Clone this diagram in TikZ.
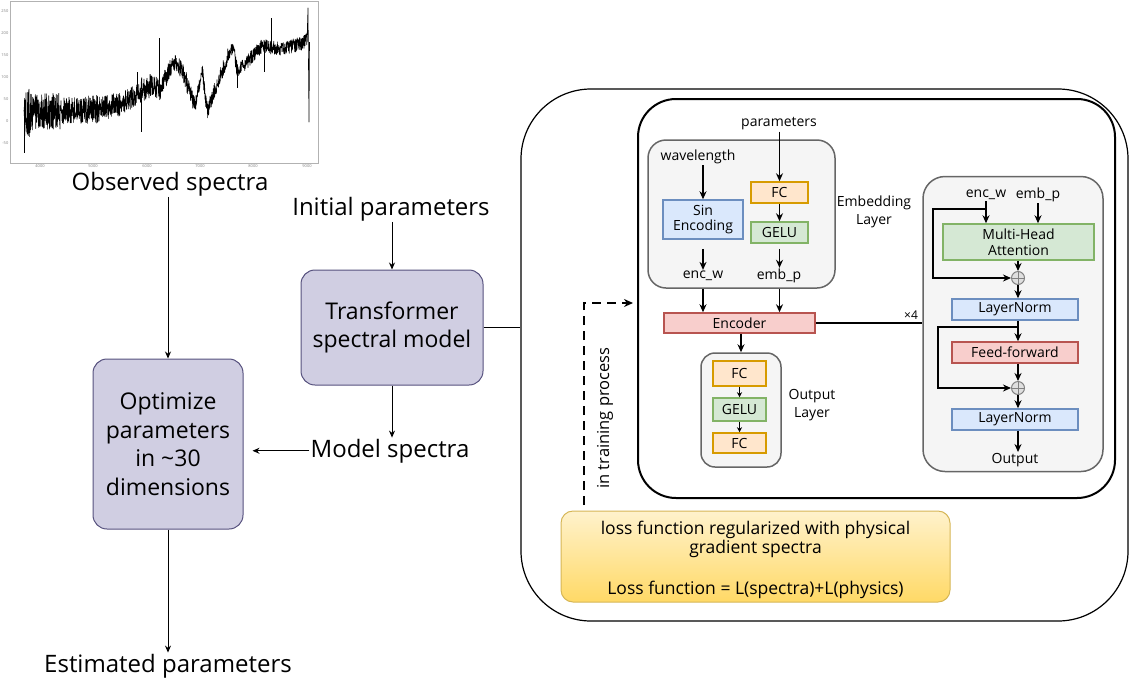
\documentclass[tikz,border=0pt]{standalone}
\usepackage{fontspec}
\setmainfont{Open Sans}
\usetikzlibrary{arrows.meta}
\definecolor{lavF}{HTML}{D0CEE2}
\definecolor{lavD}{HTML}{56517E}
\definecolor{grF}{HTML}{F5F5F5}
\definecolor{grD}{HTML}{666666}
\definecolor{blF}{HTML}{DAE8FC}
\definecolor{blD}{HTML}{6C8EBF}
\definecolor{orF}{HTML}{FFE6CC}
\definecolor{orD}{HTML}{D79B00}
\definecolor{gnF}{HTML}{D5E8D4}
\definecolor{gnD}{HTML}{82B366}
\definecolor{rdF}{HTML}{F8CECC}
\definecolor{rdD}{HTML}{B85450}
\definecolor{ylT}{HTML}{FFF2CC}
\definecolor{ylB}{HTML}{FFD966}
\definecolor{ylD}{HTML}{D6B656}
\tikzset{
  bigtxt/.style={font=\fontsize{24}{29}\selectfont, inner sep=1},
  lbox/.style={draw=lavD, fill=lavF, rounded corners=14, line width=1, align=center,
    font=\fontsize{23}{28.5}\selectfont, inner sep=0},
  thinarr/.style={line width=0.9, -{Stealth[length=7,width=6]}},
  inarr/.style={line width=1.8, -{Stealth[length=8,width=7]}},
  smarr/.style={line width=1.3, -{Stealth[length=5,width=5]}},
  smtxt/.style={font=\fontsize{14}{18}\selectfont, inner sep=1, align=center},
  cbox/.style={draw, line width=1.5, inner sep=0, align=center, font=\fontsize{14}{15.5}\selectfont},
  grp/.style={draw=grD, fill=grF, line width=1.5},
  plusc/.style={circle, draw=gray, fill=gray!25, line width=1, minimum size=13, inner sep=0,
    path picture={\draw[gray, line width=1] (path picture bounding box.north) -- (path picture bounding box.south)
      (path picture bounding box.west) -- (path picture bounding box.east);}},
  ticktxt/.style={font=\fontsize{4}{4}\selectfont, text=gray, inner sep=0.5}
}
\begin{document}
\begin{tikzpicture}[x=1pt,y=-1pt]
\useasboundingbox (0,0) rectangle (1131,678);

% ---------------- spectrum plot ----------------
\draw[gray!60, line width=0.8] (10,1) rectangle (318,163);
\foreach \v/\yy [count=\i] in {250/10.7,200/32.7,150/55,100/77,50/99,0/121,-50/143}
  \node[ticktxt, anchor=east] (yt\i) at (9,\yy) {\v};
\foreach \v/\xx [count=\i] in {4000/40,5000/93,6000/147,7000/200,8000/253,9000/307}
  \node[ticktxt] (xt\i) at (\xx,166) {\v};
\pgfmathsetseed{7}
\draw[black, line width=0.6, line join=round] (24,110)
  foreach \xa/\ya/\xb/\yb/\a/\n in {
    24/110/30/112/26/30, 30/112/60/111/18/150, 60/111/100/109/14/200,
    100/109/120/104/12/100, 120/104/135/96/11/75, 135/96/140/90/11/25,
    140/90/155/86/13/75, 155/86/160/92/11/25, 160/92/168/72/10/40,
    168/72/175/61/9/35, 175/61/183/72/9/40, 183/72/195/107/9/60,
    195/107/200/80/8/25, 200/80/202/68/6/10, 202/68/207/112/8/25,
    207/112/213/95/8/30, 213/95/228/56/8/75, 228/56/233/47/6/25,
    233/47/237/70/8/20, 237/70/241/68/7/20, 241/68/262/46/7/105,
    262/46/280/49/7/90, 280/49/300/44/7/100, 300/44/307/40/7/35}
  { foreach \k in {1,...,\n} { -- ({\xa+(\xb-\xa)*\k/\n},{\ya+(\yb-\ya)*\k/\n+\a*rand}) } }
  -- (308,8) -- (309,122) -- (309.5,42);
\draw[black, line width=0.6] (24,105) -- (24,153) (137,95) -- (137,72) (141,90) -- (141,132)
  (159,90) -- (159,38) (271,47) -- (271,18) (264,46) -- (264,72) (237,70) -- (237,88);

% ---------------- left column ----------------
\node[bigtxt, anchor=base] (obs) at (170,190) {Observed spectra};
\node[lbox, minimum width=150, minimum height=170] (opt) at (168,444)
  {Optimize\\parameters\\in \textasciitilde30\\dimensions};
\node[bigtxt, anchor=base] (est) at (168,672) {Estimated parameters};
\node[bigtxt, anchor=base] (init) at (391,215) {Initial parameters};
\node[lbox, minimum width=182, minimum height=115] (trans) at (392,327.5)
  {Transformer\\spectral model};
\node[bigtxt, anchor=base] (model) at (390,457) {Model spectra};

\draw[thinarr] (opt.north |- obs.south) -- (opt.north);
\draw[thinarr] (opt.south) -- (opt.south |- est.north);
\draw[thinarr] (trans.north |- init.south) -- (trans.north);
\draw[thinarr] (trans.south) -- (trans.south |- model.north);
\draw[thinarr, shorten >=9] (model.west) -- (opt.east |- model.west);

% ---------------- big frames ----------------
\node[draw, rounded corners=70, line width=1.2, minimum width=607, minimum height=532] (outer) at (824.5,355) {};
\draw[line width=1] (trans.east) -- (trans.east -| outer.west);
\node[draw, rounded corners=38, line width=2, minimum width=477, minimum height=399] (inner) at (876.5,298.5) {};

% ---------------- embedding layer ----------------
\node[grp, rounded corners=18, minimum width=187, minimum height=148] (emb) at (741.5,214) {};
\node[smtxt] (par) at (779,124) {parameters};
\node[smtxt] (wl) at (698,157) {wavelength};
\node[cbox, draw=blD, fill=blF, minimum width=80, minimum height=39] (sin) at (703,219.5) {Sin\\Encoding};
\node[cbox, draw=orD, fill=orF, minimum width=57, minimum height=21] (fc0) at (779.5,192.5) {FC};
\node[cbox, draw=gnD, fill=gnF, minimum width=57, minimum height=21] (gelu0) at (779.5,232.5) {GELU};
\node[smtxt] (encw) at (703,276) {enc\_w};
\node[smtxt] (embp) at (779,276) {emb\_p};
\node[smtxt] (embL) at (874,212) {Embedding\\Layer};
\draw[inarr] (sin.north |- wl.south) -- (sin.north);
\draw[inarr] (fc0.north |- par.south) -- (fc0.north);
\draw[inarr] (fc0.south) -- (gelu0.north);
\draw[inarr, shorten <=9] (sin.south) -- (sin.south |- encw.north);
\draw[inarr, shorten <=5] (gelu0.south) -- (gelu0.south |- embp.north);

% ---------------- encoder ----------------
\node[cbox, draw=rdD, fill=rdF, minimum width=151, minimum height=20] (enc) at (739.5,323) {Encoder};
\draw[inarr] (sin.south |- emb.south) -- (sin.south |- enc.north);
\draw[inarr] (gelu0.south |- emb.south) -- (gelu0.south |- enc.north);

% ---------------- output layer ----------------
\node[grp, rounded corners=14, minimum width=80, minimum height=114] (outr) at (741,410) {};
\node[cbox, draw=orD, fill=orF, minimum width=53, minimum height=25] (fc1) at (739.5,373.5) {FC};
\node[cbox, draw=gnD, fill=gnF, minimum width=53, minimum height=23] (gelu1) at (739.5,409.5) {GELU};
\node[cbox, draw=orD, fill=orF, minimum width=53, minimum height=20] (fc2) at (739.5,443) {FC};
\node[smtxt] (outL) at (812,405) {Output\\Layer};
\draw[inarr] (outr.north |- enc.south) -- (outr.north);
\draw[smarr] (fc1.south) -- (gelu1.north);
\draw[smarr] (gelu1.south) -- (fc2.north);

% ---------------- encoder block ----------------
\node[grp, rounded corners=22, minimum width=180, minimum height=295] (blk) at (1013,324) {};
\draw[line width=1.5] (enc.east) -- (enc.east -| blk.west);
\node[font=\fontsize{12}{12}\selectfont, inner sep=1] (x4) at (911,315) {×4};
\node[smtxt] (ew2) at (986,195) {enc\_w};
\node[smtxt] (ep2) at (1038,195) {emb\_p};
\node[cbox, draw=gnD, fill=gnF, minimum width=151, minimum height=36] (mha) at (1018.5,242) {Multi-Head\\Attention};
\node[plusc] (p1) at (1018,278) {};
\node[cbox, draw=blD, fill=blF, minimum width=126, minimum height=21] (ln1) at (1015,309.5) {LayerNorm};
\node[cbox, draw=rdD, fill=rdF, minimum width=126, minimum height=21] (ff) at (1015,352.5) {Feed-forward};
\node[plusc] (p2) at (1018,388) {};
\node[cbox, draw=blD, fill=blF, minimum width=126, minimum height=21] (ln2) at (1015,419.5) {LayerNorm};
\node[smtxt] (outT) at (1015,460) {Output};
\coordinate (r1a) at (986,209);
\coordinate (r1b) at (933,278);
\coordinate (r2a) at (1018,327);
\coordinate (r2b) at (938,388);
\draw[inarr] (ew2.south) -- (ew2.south |- mha.north);
\draw[inarr] (ep2.south) -- (ep2.south |- mha.north);
\draw[inarr] (p1.north |- mha.south) -- (p1.north);
\draw[inarr] (r1a) -| (r1b) -- (p1.west);
\draw[inarr] (p1.south) -- (p1.south |- ln1.north);
\draw[inarr] (p1.south |- ln1.south) -- (p1.south |- ff.north);
\draw[inarr] (r2a) -| (r2b) -- (p2.west);
\draw[inarr] (p2.north |- ff.south) -- (p2.north);
\draw[inarr] (p2.south) -- (p2.south |- ln2.north);
\draw[inarr] (p2.south |- ln2.south) -- (p2.south |- outT.north);

% ---------------- training process ----------------
\coordinate (d0) at (584,505);
\coordinate (d1) at (633,303);
\draw[line width=2.5, dash pattern=on 9 off 6, -{Stealth[length=9,width=8]}] (d0) |- (d1);
\node[font=\fontsize{16.5}{18}\selectfont, inner sep=1, rotate=90] (trn) at (605,418) {in training process};

% ---------------- loss ----------------
\node[draw=ylD, top color=ylT, bottom color=ylB, rounded corners=12, line width=1,
  minimum width=389, minimum height=91] (loss) at (755.5,556.5) {};
\node[font=\fontsize{17.5}{17}\selectfont, align=center, inner sep=0] (lossT) at (755.5,560)
  {loss function regularized with physical\\gradient spectra\\[23pt]Loss function = L(spectra)+L(physics)};
\end{tikzpicture}
\end{document}
